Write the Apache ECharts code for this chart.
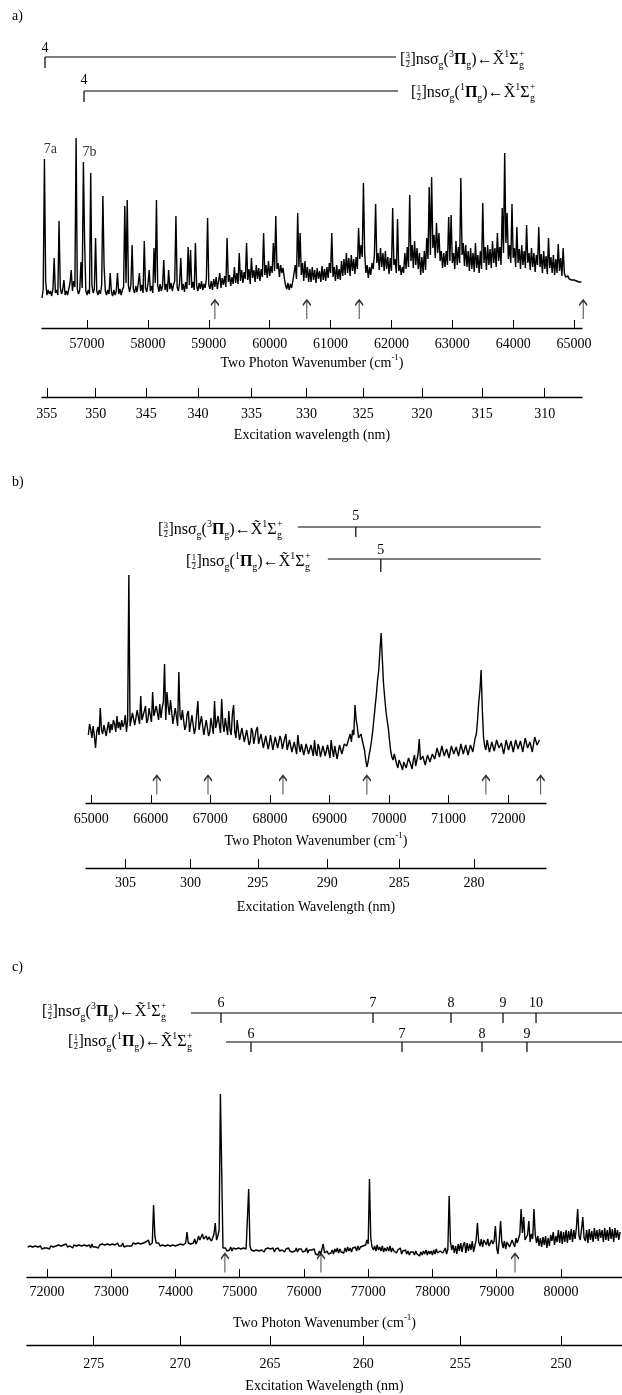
<!DOCTYPE html>
<html><head><meta charset="utf-8">
<script src="https://cdn.jsdelivr.net/npm/echarts@6/dist/echarts.min.js"></script>
<style>html,body{margin:0;padding:0;background:#fff}#c{width:622px;height:1395px}</style>
</head><body><div id="c"></div><script>
// ---------------- DATA ----------------
// Panel a spectrum: two-photon wavenumber sampling (cm-1) and intensity (arb.)
const specA_start = 56260, specA_step = 20;
const specA_intensity = [
 5,14,144,22,8,13,9,12,7,14,45,10,13,8,82,16,9,13,23,8,
 12,8,14,20,33,12,22,16,165,14,9,13,41,15,141,60,12,8,13,9,
 130,18,10,14,65,12,8,13,9,18,107,36,12,8,13,9,30,11,7,13,
 8,12,30,9,14,8,13,16,97,20,103,17,11,18,58,14,10,17,11,19,
 30,12,18,10,62,15,11,19,33,12,17,10,55,20,103,18,11,19,12,17,
 43,13,19,11,33,14,20,12,18,22,87,16,12,20,45,13,19,11,21,14,
 56,18,53,15,21,13,60,17,12,20,14,22,13,19,15,24,85,18,14,22,
 13,24,16,26,14,22,30,15,25,18,27,16,65,21,28,17,26,19,36,20,
 30,19,50,22,33,20,31,24,60,23,34,19,45,25,33,21,38,24,35,22,
 34,26,70,28,38,25,42,27,37,30,60,32,87,34,40,26,38,30,35,25,
 18,14,20,13,19,15,22,30,38,24,90,36,70,28,40,22,42,25,36,21,
 34,21,36,23,33,20,35,24,32,21,37,23,34,22,36,25,40,30,70,26,
 36,22,38,24,34,23,42,27,44,28,50,30,45,27,48,32,44,29,46,34,
 75,44,58,46,120,50,30,38,25,36,28,40,34,48,99,40,50,33,55,36,
 50,32,52,34,46,29,45,32,95,38,44,30,84,32,38,28,36,30,50,34,
 56,36,108,42,58,35,62,38,55,34,50,28,46,30,52,33,65,44,116,48,
 126,55,68,45,80,50,70,42,52,35,50,36,52,38,86,42,88,40,50,34,
 62,38,56,40,125,48,60,37,58,36,52,32,55,34,50,31,60,35,48,30,
 52,34,100,40,56,33,58,38,54,35,62,40,55,36,70,42,56,38,95,50,
 150,60,90,44,58,40,99,45,55,36,76,40,54,34,58,38,52,35,78,40,
 50,33,55,36,50,31,48,38,76,36,49,30,52,34,47,29,65,35,46,30,
 48,28,44,30,59,32,45,27,55,30,26,24,27,24,26,23,25,23,24,22,
 23,21,22,21];
const specB_start = 64950, specB_step = 20;
const specB_intensity = [
 55,66,60,52,64,54,42,58,63,55,82,60,56,65,63,54,62,68,57,66,
 60,70,66,58,74,62,68,60,70,63,66,75,58,70,215,64,66,77,78,65,
 64,80,80,66,94,70,68,79,84,67,70,82,82,68,98,74,72,84,82,70,
 86,72,82,88,126,70,98,84,75,90,89,66,68,82,80,64,118,75,70,80,
 78,60,64,76,79,58,60,75,74,56,62,76,89,60,58,74,72,55,55,70,
 70,54,58,72,73,56,89,62,60,74,76,57,91,66,58,72,74,55,79,60,
 55,76,85,58,52,70,68,50,50,62,62,48,46,60,60,45,48,62,58,46,
 45,60,63,46,44,56,55,42,42,54,52,41,46,55,54,40,40,53,52,42,
 44,54,50,41,41,52,56,40,42,50,48,38,36,48,47,36,55,44,38,46,
 46,35,35,46,44,36,37,45,46,34,50,38,34,46,42,33,31,44,44,34,
 35,45,45,32,50,40,33,44,43,31,32,45,46,36,38,46,48,44,44,52,
 56,48,60,55,85,70,63,52,50,56,58,45,40,30,23,28,36,42,50,60,
 72,84,96,110,120,140,157,130,106,92,79,70,62,50,39,33,30,36,34,26,
 22,30,32,24,20,28,30,22,24,32,33,25,21,30,35,24,26,36,51,30,
 28,34,36,25,24,35,37,28,27,36,38,31,30,42,42,33,32,44,44,34,
 34,41,40,32,31,44,45,36,35,43,43,34,33,46,46,36,38,45,44,35,
 36,45,47,38,45,52,56,70,88,100,120,80,53,44,40,50,50,38,36,48,
 48,39,38,50,52,42,40,47,47,36,36,50,51,40,41,49,49,38,37,50,
 52,41,40,49,48,38,39,52,53,42,41,48,50,38,38,53,54,45,44,50];
const specC_start = 71700, specC_step = 20;
const specC_intensity = [
 13,11,14,12,13,11,14,12,13,12,14,11,13,12,14,12,13,11,14,12,
 13,12,14,12,15,13,14,12,15,14,16,13,15,14,14,12,15,13,14,12,
 15,13,14,12,15,13,14,13,15,12,16,13,15,13,14,12,15,13,16,14,
 15,13,16,14,15,13,16,14,15,13,17,14,16,14,17,13,15,14,16,14,
 16,14,17,15,16,14,17,15,16,14,17,15,18,16,20,15,16,17,55,24,
 17,15,17,14,16,15,17,14,16,15,17,14,16,15,17,14,16,15,17,16,
 17,15,16,17,28,17,19,16,18,17,21,16,19,24,20,19,26,21,22,24,
 20,23,24,19,22,26,37,20,24,30,166,90,12,10,12,9,11,10,13,9,
 12,10,11,9,12,10,11,9,12,10,11,13,71,14,10,12,9,11,10,12,
 9,11,10,12,8,11,9,12,10,11,9,12,8,11,10,12,9,11,10,12,
 8,11,9,12,9,11,8,10,9,12,8,11,9,11,8,10,9,12,7,10,
 8,10,9,11,6,8,5,9,6,8,16,7,5,9,6,8,7,10,6,11,
 8,12,7,11,8,10,7,12,8,13,9,12,8,12,10,13,9,14,10,13,
 11,14,12,15,20,16,81,22,13,10,14,9,15,10,13,9,14,8,12,9,
 13,9,14,8,12,9,11,7,10,8,12,6,9,7,10,6,9,5,8,6,
 8,5,9,6,8,4,8,5,9,6,10,5,9,6,9,5,10,6,11,7,
 5,9,11,7,8,12,6,11,64,18,10,15,7,14,6,16,9,17,8,15,
 18,7,17,9,16,10,19,8,14,20,37,18,14,21,13,20,22,15,21,14,
 15,20,16,19,34,12,6,20,39,18,12,19,11,18,20,13,14,20,19,13,
 22,17,18,26,51,27,43,20,22,25,39,18,26,21,51,25,17,24,14,22,
 13,23,15,24,12,22,14,25,19,28,15,24,18,30,17,29,16,28,18,30,
 17,29,20,31,18,30,21,32,51,24,20,31,43,22,19,30,17,31,20,29,
 18,32,21,30,19,31,22,30,18,32,20,30,19,33,21,31,18,32,22,30,
 20,28];

// Axis ranges (cm-1) and tick labels
const rangeA = [56260, 65130], rangeB = [64910, 72640], rangeC = [71690, 80950];
const wnTicksA = [57000,58000,59000,60000,61000,62000,63000,64000,65000];
const wlTicksA = [355,350,345,340,335,330,325,320,315,310];
const wnTicksB = [65000,66000,67000,68000,69000,70000,71000,72000];
const wlTicksB = [305,300,295,290,285,280];
const wnTicksC = [72000,73000,74000,75000,76000,77000,78000,79000,80000];
const wlTicksC = [275,270,265,260,255,250];

// Arrow markers (cm-1)
const arrowsA = [59100, 60610, 61470, 65150];
const arrowsB = [66100, 66960, 68220, 69630, 71630, 72550];
const arrowsC = [74770, 76265, 79285];

// Peak labels (panel a), referring to sample indices of specA_intensity
const peakLabelNamesA = ['7a', '7b'];
const peakLabelIndexA = [2, 34];

// Rydberg progressions: spans, level positions, level labels (cm-1)
const progA1_span = [56309, 62075], progA1_levels = [56309], progA1_labels = ['4'];
const progA2_span = [56950, 62108], progA2_levels = [56950], progA2_labels = ['4'];
const progB1_span = [68470, 72551], progB1_levels = [69444], progB1_labels = ['5'];
const progB2_span = [68974, 72551], progB2_levels = [69864], progB2_labels = ['5'];
const progC1_span = [74242, 80950], progC1_levels = [74709, 77075, 78289, 79098, 79612], progC1_labels = ['6','7','8','9','10'];
const progC2_span = [74787, 80950], progC2_levels = [75176, 77526, 78771, 79471], progC2_labels = ['6','7','8','9'];

// ---------------- RENDER ----------------
const SERIF = '"Liberation Serif", "DejaVu Serif", serif';
const FS = 14;
const chart = echarts.init(document.getElementById('c'), null, {renderer: 'canvas'});

function toPairs(start, step, arr) { return arr.map((v, i) => [start + i * step, v]); }

const richName = {rich: {
  t: {fontSize: FS, fontFamily: SERIF, color: '#000', lineHeight: 17, verticalAlign: 'bottom'},
  s: {fontSize: 9, fontFamily: SERIF, color: '#000', lineHeight: 17, verticalAlign: 'top'}
}};

function wnAxis(g, range, ticks, margin, gap) {
  return {
    type: 'value', gridIndex: g, min: range[0], max: range[1], position: 'bottom', offset: 0,
    axisLine: {show: true, onZero: false, lineStyle: {color: '#000', width: 1.3}},
    axisTick: {show: true, inside: true, length: 8, customValues: ticks, lineStyle: {color: '#000', width: 1}},
    axisLabel: {show: true, customValues: ticks, margin: margin, color: '#000', fontSize: FS, fontFamily: SERIF,
      formatter: v => String(Math.round(v))},
    splitLine: {show: false},
    name: '{t|Two Photon Wavenumber (cm}{s|-1}{t|)}', nameLocation: 'middle', nameGap: gap,
    nameTextStyle: richName
  };
}
function wlAxis(g, range, wl, offset, margin, gap, name) {
  const vals = wl.map(l => 2e7 / l);
  return {
    type: 'value', gridIndex: g, min: range[0], max: range[1], position: 'bottom', offset: offset,
    axisLine: {show: true, onZero: false, lineStyle: {color: '#000', width: 1.3}},
    axisTick: {show: true, inside: true, length: 9, customValues: vals, lineStyle: {color: '#000', width: 1}},
    axisLabel: {show: true, customValues: vals, margin: margin, color: '#000', fontSize: FS, fontFamily: SERIF,
      formatter: v => String(Math.round(2e7 / v))},
    splitLine: {show: false},
    name: name, nameLocation: 'middle', nameGap: gap,
    nameTextStyle: {fontSize: FS, fontFamily: SERIF, color: '#000'}
  };
}

function specSeries(k, start, step, arr) {
  return {type: 'line', xAxisIndex: 2 * k, yAxisIndex: k, data: toPairs(start, step, arr),
    symbol: 'none', showSymbol: false, silent: true, lineStyle: {color: '#000', width: 1.4}, z: 3};
}
const ARROW = 'path://M5,0 L5,20 M1.2,5.5 L5,0 L8.8,5.5';
function arrowSeries(k, arr, yv) {
  return {type: 'scatter', xAxisIndex: 2 * k, yAxisIndex: k, data: arr.map(v => [v, yv]),
    symbol: ARROW, symbolSize: [8, 19], clip: false, silent: true,
    itemStyle: {color: 'rgba(0,0,0,0)', borderColor: '#000', borderWidth: 1.4}};
}
function progSeries(k, span, levels, labels, yLevel, tickLen, labelGap) {
  return {
    type: 'custom', xAxisIndex: 2 * k, yAxisIndex: k, clip: false, silent: true,
    data: levels.map(v => [v, yLevel]),
    renderItem: (params, api) => {
      const p = api.coord([api.value(0), api.value(1)]);
      const children = [
        {type: 'line', shape: {x1: p[0], y1: p[1], x2: p[0], y2: p[1] + tickLen}, style: {stroke: '#000', lineWidth: 1.2}},
        {type: 'text', x: p[0], y: p[1] - labelGap, style: {text: labels[params.dataIndex], fontSize: FS, fontFamily: SERIF,
          fill: '#000', align: 'center', verticalAlign: 'middle'}}
      ];
      if (params.dataIndex === 0) {
        const a = api.coord([span[0], yLevel]), b = api.coord([span[1], yLevel]);
        children.push({type: 'line', shape: {x1: a[0], y1: a[1], x2: b[0], y2: b[1]}, style: {stroke: '#000', lineWidth: 1.2}});
      }
      return {type: 'group', children: children};
    }
  };
}

// Spectroscopic term labels built from text pieces
const mctx = document.createElement('canvas').getContext('2d');
function tw(t, size, weight) { mctx.font = (weight || 'normal') + ' ' + size + 'px ' + SERIF; return mctx.measureText(t).width; }
function txt(x, y, t, size, weight) {
  return {type: 'text', x: x, y: y, silent: true, style: {text: t, fill: '#000', fontSize: size, fontFamily: SERIF,
    fontWeight: weight || 'normal', align: 'left', verticalAlign: 'middle'}};
}
function stateLabel(x0, y, num, mult) {
  const els = []; let x = x0; const big = 16, small = 10, fr = 8.5;
  const put = (t, size, dy, w) => { els.push(txt(x, y + dy, t, size, w)); x += tw(t, size, w); };
  put('[', big, 0);
  const fw = Math.max(tw(num, fr), tw('2', fr));
  els.push(txt(x + 0.3, y - 4.5, num, fr)); els.push(txt(x + 0.3, y + 5, '2', fr));
  els.push({type: 'line', silent: true, shape: {x1: x + 0.3, y1: y + 0.5, x2: x + 0.3 + fw, y2: y + 0.5}, style: {stroke: '#000', lineWidth: 0.7}});
  x += fw + 0.8;
  put(']', big, 0);
  put('ns', big, 0);
  put('\u03c3', big, 0);
  put('g', small, 5);
  put('(', big, 0);
  put(mult, small, -6);
  put('\u03a0', big, 0, 'bold');
  put('g', small, 5);
  put(')', big, 0);
  put('\u2190', big, 0);
  put('X\u0303', big, 0);
  put('1', small, -6);
  put('\u03a3', big, 0);
  els.push(txt(x + 0.5, y - 6, '+', small)); els.push(txt(x + 0.5, y + 5, 'g', small));
  return els;
}

let graphics = [
  txt(12, 16, 'a)', FS), txt(12, 482, 'b)', FS), txt(12, 967, 'c)', FS)
];
graphics = graphics.concat(stateLabel(400, 60, '3', '3'), stateLabel(411, 93, '1', '1'),
  stateLabel(158, 530, '3', '3'), stateLabel(186, 562, '1', '1'),
  stateLabel(42, 1012, '3', '3'), stateLabel(68, 1042, '1', '1'));

const option = {
  animation: false,
  backgroundColor: '#fff',
  grid: [
    {left: 42, right: 40, top: 40, height: 288},
    {left: 86, right: 76, top: 500, height: 303},
    {left: 27, right: 0, top: 990, height: 287}
  ],
  xAxis: [
    wnAxis(0, rangeA, wnTicksA, 9, 25),
    wlAxis(0, rangeA, wlTicksA, 69, 10, 31, 'Excitation wavelength (nm)'),
    wnAxis(1, rangeB, wnTicksB, 9, 28),
    wlAxis(1, rangeB, wlTicksB, 65, 8, 32, 'Excitation Wavelength (nm)'),
    wnAxis(2, rangeC, wnTicksC, 8, 36),
    wlAxis(2, rangeC, wlTicksC, 68, 12, 34, 'Excitation Wavelength (nm)')
  ],
  yAxis: [
    {type: 'value', gridIndex: 0, min: -25, max: 263, show: false},
    {type: 'value', gridIndex: 1, min: -13, max: 290, show: false},
    {type: 'value', gridIndex: 2, min: -17, max: 270, show: false}
  ],
  series: [
    specSeries(0, specA_start, specA_step, specA_intensity),
    specSeries(1, specB_start, specB_step, specB_intensity),
    specSeries(2, specC_start, specC_step, specC_intensity),
    arrowSeries(0, arrowsA, -6.5),
    arrowSeries(1, arrowsB, 5),
    arrowSeries(2, arrowsC, -3),
    progSeries(0, progA1_span, progA1_levels, progA1_labels, 246, 11, 9),
    progSeries(0, progA2_span, progA2_levels, progA2_labels, 212, 11, 11),
    progSeries(1, progB1_span, progB1_levels, progB1_labels, 263, 10, 11),
    progSeries(1, progB2_span, progB2_levels, progB2_labels, 231, 13, 9),
    progSeries(2, progC1_span, progC1_levels, progC1_labels, 247, 10, 10),
    progSeries(2, progC2_span, progC2_levels, progC2_labels, 218, 10, 8),
    {
      type: 'scatter', xAxisIndex: 0, yAxisIndex: 0, symbolSize: 0, silent: true,
      data: peakLabelIndexA.map((idx, j) => [specA_start + idx * specA_step, specA_intensity[idx], peakLabelNamesA[j]]),
      label: {show: true, position: 'top', distance: 3, offset: [6, 0], formatter: p => p.data[2],
        fontSize: FS, fontFamily: SERIF, color: '#000'}
    }
  ],
  graphic: graphics
};
chart.setOption(option);
</script></body></html>
